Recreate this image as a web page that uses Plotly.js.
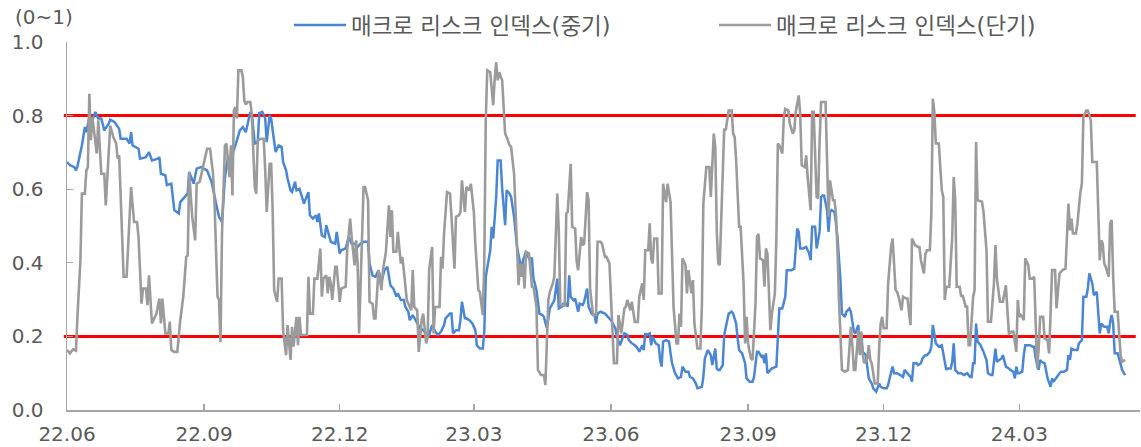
<!DOCTYPE html>
<html>
<head>
<meta charset="utf-8">
<script src="https://cdn.plot.ly/plotly-3.0.1.min.js"></script>
<style>html,body{margin:0;padding:0;background:#fff;}#chart{width:1141px;height:447px;}</style>
</head>
<body>
<div id="chart"></div>
<script>
// ---- data ----
const startDate = '2022-06-01';               // first observation
const axisEndDate = '2024-05-21';
const seriesNames = ['매크로 리스크 인덱스(중기)', '매크로 리스크 인덱스(단기)'];
const yAxisUnit = '(0~1)';
const upperBand = 0.8;
const lowerBand = 0.2;

// days elapsed since startDate, and index values (mid-term, blue)
const midDay = [0,2,5,6,7,10,12,13,15,17,19,21,23,25,28,29,32,35,36,40,42,43,44,48,49,53,55,57,61,62,63,66,67,70,72,75,76,79,81,82,85,87,90,94,97,100,102,104,106,108,110,113,116,118,120,123,
124,126,128,129,131,133,134,136,137,138,140,142,144,145,147,148,150,151,153,154,156,157,159,162,163,165,167,168,169,171,173,174,176,177,180,181,183,184,187,189,191,193,195,197,199,202,203,205,207,209,211,213,215,217,219,221,222,224,226,227,229,230,232,234,237,239,241,243,
245,247,249,251,253,254,257,258,259,261,263,264,265,267,268,270,272,274,275,277,279,280,281,284,285,286,287,288,289,291,292,294,295,297,298,300,302,304,305,306,308,310,312,313,315,317,319,320,322,324,326,327,329,330,332,333,335,336,337,338,340,341,343,344,346,347,349,350,352,354,355,356,358,361,363,
365,368,369,371,373,374,376,377,379,381,383,384,386,387,388,389,391,392,393,395,397,398,399,400,402,404,405,406,408,410,412,413,415,417,418,420,422,423,426,427,428,430,432,433,435,436,437,438,440,441,444,446,447,449,450,451,453,455,456,458,460,461,463,464,466,467,468,469,470,472,473,476,477,478,480,482,483,484,
486,488,490,491,492,494,496,498,499,500,502,503,505,506,507,508,510,511,512,513,515,516,517,519,520,522,523,525,526,528,529,531,532,533,534,536,537,538,540,541,543,545,546,548,550,551,552,554,555,557,559,561,562,564,566,567,568,570,571,573,574,576,577,579,580,581,582,583,585,587,588,590,591,593,594,595,596,598,600,602,604,606,
607,608,609,610,611,613,615,617,618,620,621,623,624,626,627,628,630,632,633,635,636,637,638,639,641,642,643,645,646,648,649,650,652,653,654,656,657,658,660,661,662,664,666,667,669,671,672,673,674,676,678,679,681,682,684,685,686,688,689,691,692,693,694,696,698,699,700,701,702,703,705,706,708,710];
const midVal = [0.674,0.665,0.660,0.651,0.662,0.719,0.769,0.755,0.796,0.787,0.810,0.792,0.792,0.760,0.778,0.789,0.782,0.764,0.737,0.737,0.724,0.755,0.719,0.710,0.683,0.687,0.701,0.678,0.683,0.687,0.642,0.638,0.611,0.615,0.543,0.534,0.565,0.579,0.588,0.647,0.615,0.656,0.660,0.651,0.620,0.561,0.525,0.511,0.633,0.687,0.683,0.719,0.760,0.769,0.755,0.810,
0.805,0.724,0.728,0.807,0.810,0.792,0.728,0.801,0.792,0.760,0.701,0.719,0.715,0.674,0.651,0.629,0.597,0.593,0.620,0.597,0.601,0.588,0.561,0.592,0.529,0.520,0.529,0.511,0.534,0.475,0.470,0.502,0.475,0.457,0.452,0.484,0.425,0.434,0.439,0.470,0.452,0.452,0.443,0.452,0.457,0.457,0.398,0.366,0.362,0.380,0.348,0.380,0.389,0.339,0.330,0.308,0.317,0.299,0.299,0.281,0.267,0.244,0.258,0.244,0.222,0.217,0.208,0.204,
0.231,0.213,0.204,0.213,0.231,0.249,0.262,0.262,0.208,0.217,0.217,0.244,0.294,0.249,0.249,0.244,0.235,0.217,0.176,0.167,0.167,0.213,0.362,0.434,0.498,0.466,0.525,0.579,0.678,0.678,0.602,0.502,0.597,0.588,0.579,0.525,0.443,0.407,0.380,0.407,0.430,0.412,0.412,0.357,0.326,0.262,0.258,0.253,0.222,0.276,0.289,0.298,0.357,0.276,0.281,0.289,0.289,0.281,0.366,0.307,0.298,0.303,0.267,0.289,0.285,0.294,0.330,0.281,0.262,0.258,0.235,0.262,0.267,0.262,0.253,
0.244,0.222,0.199,0.176,0.195,0.208,0.204,0.190,0.181,0.176,0.167,0.158,0.176,0.163,0.208,0.204,0.208,0.176,0.199,0.181,0.176,0.136,0.118,0.186,0.190,0.186,0.154,0.127,0.100,0.086,0.090,0.118,0.104,0.104,0.090,0.086,0.072,0.059,0.063,0.090,0.140,0.163,0.149,0.122,0.167,0.113,0.109,0.109,0.122,0.204,0.262,0.267,0.262,0.235,0.195,0.163,0.154,0.127,0.086,0.077,0.077,0.090,0.158,0.158,0.145,0.149,0.127,0.154,0.100,0.109,0.113,0.118,0.208,0.276,0.276,0.308,0.380,0.380,
0.380,0.384,0.493,0.484,0.439,0.439,0.443,0.425,0.407,0.498,0.498,0.439,0.484,0.579,0.583,0.583,0.543,0.484,0.538,0.543,0.538,0.507,0.470,0.353,0.262,0.253,0.267,0.276,0.267,0.213,0.208,0.231,0.163,0.190,0.158,0.149,0.122,0.086,0.072,0.059,0.050,0.072,0.063,0.059,0.059,0.068,0.086,0.118,0.100,0.100,0.095,0.090,0.109,0.100,0.090,0.077,0.127,0.127,0.122,0.127,0.140,0.149,0.149,0.158,0.172,0.231,0.208,0.181,0.172,0.176,0.154,0.109,0.113,0.113,0.131,0.181,0.109,0.100,0.100,0.095,0.100,0.090,
0.090,0.127,0.127,0.235,0.186,0.176,0.158,0.136,0.100,0.095,0.095,0.167,0.131,0.136,0.140,0.149,0.118,0.113,0.109,0.104,0.086,0.118,0.100,0.100,0.104,0.149,0.176,0.176,0.176,0.172,0.172,0.140,0.109,0.136,0.131,0.127,0.109,0.086,0.063,0.086,0.077,0.090,0.100,0.104,0.104,0.109,0.149,0.136,0.167,0.163,0.163,0.181,0.190,0.308,0.308,0.330,0.371,0.344,0.312,0.321,0.262,0.208,0.235,0.226,0.226,0.208,0.240,0.258,0.235,0.154,0.154,0.136,0.109,0.095];

// days elapsed since startDate, and index values (short-term, gray)
const shortDay = [0,2,4,6,7,9,10,12,13,14,15,16,17,19,20,21,23,25,26,29,31,33,34,35,38,40,42,43,45,47,48,50,51,53,54,55,57,60,62,63,64,66,68,69,70,72,74,76,78,80,81,82,84,86,87,89,91,94,96,98,99,101,102,103,104,106,107,109,110,111,112,113,114,115,117,118,119,120,121,123,
124,125,126,127,128,130,132,133,134,136,137,138,139,141,142,144,145,147,148,150,151,152,154,155,156,157,158,161,162,163,165,166,168,170,171,172,174,175,176,177,178,180,181,183,184,187,188,190,191,193,194,195,196,197,199,200,202,203,205,206,207,209,211,212,214,216,217,218,219,221,222,224,225,226,228,230,231,232,233,235,236,238,239,241,242,243,
245,246,247,250,251,252,253,255,257,258,260,261,263,264,265,267,268,270,271,273,274,276,277,279,280,281,282,284,286,287,288,289,290,292,294,295,297,298,300,301,303,304,305,306,307,308,310,312,313,315,316,318,320,321,323,324,326,327,329,330,331,333,334,335,336,338,339,341,342,343,345,346,347,349,350,351,353,355,356,358,359,361,362,364,
365,366,367,369,370,371,372,374,375,376,378,379,380,381,383,384,386,387,388,390,391,392,393,394,396,397,399,400,402,403,405,406,407,409,410,411,412,413,415,416,417,419,420,421,423,425,426,427,429,431,432,434,435,436,437,438,440,441,442,443,444,446,447,448,449,451,452,454,455,456,457,458,459,460,462,463,464,465,467,468,469,470,471,472,473,475,476,477,478,480,481,482,484,
485,487,488,489,491,492,493,495,496,497,499,500,501,503,504,505,506,509,510,511,512,514,515,516,517,518,520,522,524,526,527,528,529,531,532,533,534,535,537,538,539,540,542,544,545,546,547,548,550,551,553,554,556,557,558,560,561,563,564,566,567,569,571,572,573,575,576,577,579,580,581,582,583,585,587,588,589,590,592,594,595,596,597,599,600,601,603,604,605,606,
608,609,610,611,614,615,617,618,620,622,623,624,626,627,628,630,631,632,634,635,637,638,639,640,641,642,643,645,646,648,649,650,651,652,653,655,656,658,659,660,661,663,664,665,666,668,670,672,673,674,675,677,678,680,681,682,684,685,687,688,690,691,693,694,695,696,697,699,700,701,702,703,705,706,707,708,710];
const shortVal = [0.163,0.154,0.165,0.161,0.253,0.407,0.588,0.588,0.651,0.660,0.859,0.733,0.796,0.733,0.697,0.787,0.642,0.642,0.556,0.773,0.742,0.724,0.683,0.692,0.362,0.362,0.543,0.606,0.511,0.511,0.470,0.289,0.330,0.330,0.285,0.366,0.235,0.262,0.303,0.235,0.303,0.208,0.208,0.240,0.163,0.158,0.158,0.244,0.307,0.416,0.420,0.647,0.525,0.461,0.615,0.620,0.656,0.710,0.710,0.642,0.561,0.308,0.299,0.185,0.479,0.719,0.724,0.633,0.719,0.583,0.814,0.823,0.792,0.923,0.923,0.905,0.840,0.830,0.837,0.837,
0.805,0.724,0.606,0.588,0.733,0.737,0.737,0.651,0.538,0.669,0.669,0.543,0.326,0.294,0.357,0.357,0.217,0.149,0.231,0.136,0.226,0.172,0.253,0.176,0.253,0.204,0.204,0.204,0.362,0.262,0.262,0.357,0.357,0.439,0.308,0.357,0.366,0.317,0.362,0.344,0.299,0.389,0.389,0.294,0.330,0.335,0.434,0.520,0.470,0.393,0.461,0.398,0.208,0.335,0.606,0.606,0.570,0.294,0.289,0.249,0.249,0.380,0.326,0.380,0.430,0.556,0.470,0.543,0.430,0.430,0.484,0.398,0.416,0.380,0.299,0.280,0.271,0.380,0.280,0.271,0.158,0.244,0.262,0.181,0.199,0.380,
0.443,0.208,0.280,0.280,0.416,0.384,0.479,0.592,0.588,0.525,0.384,0.525,0.529,0.538,0.624,0.538,0.606,0.597,0.615,0.538,0.452,0.326,0.321,0.258,0.398,0.790,0.923,0.918,0.828,0.900,0.945,0.896,0.918,0.896,0.751,0.742,0.719,0.715,0.642,0.543,0.339,0.398,0.362,0.398,0.330,0.430,0.425,0.335,0.335,0.281,0.109,0.095,0.095,0.068,0.299,0.321,0.344,0.362,0.588,0.488,0.285,0.285,0.281,0.534,0.538,0.669,0.498,0.493,0.403,0.380,0.470,0.448,0.452,0.592,0.570,0.330,0.258,0.258,0.457,0.457,0.452,0.416,0.416,0.398,
0.308,0.217,0.127,0.127,0.258,0.235,0.208,0.276,0.281,0.299,0.271,0.294,0.262,0.239,0.239,0.308,0.344,0.299,0.434,0.434,0.507,0.411,0.398,0.466,0.466,0.317,0.317,0.615,0.565,0.615,0.565,0.389,0.280,0.181,0.181,0.262,0.226,0.412,0.394,0.317,0.380,0.317,0.353,0.235,0.167,0.167,0.280,0.561,0.660,0.660,0.579,0.751,0.715,0.488,0.398,0.394,0.633,0.764,0.760,0.791,0.814,0.814,0.751,0.742,0.678,0.498,0.498,0.344,0.181,0.253,0.181,0.158,0.140,0.136,0.289,0.470,0.479,0.412,0.407,0.335,0.439,0.425,0.317,0.217,0.262,0.317,0.466,0.724,0.719,0.697,0.796,0.818,0.814,
0.778,0.751,0.760,0.810,0.855,0.805,0.665,0.660,0.692,0.633,0.543,0.810,0.810,0.579,0.575,0.728,0.837,0.837,0.696,0.525,0.624,0.570,0.570,0.534,0.434,0.299,0.109,0.104,0.109,0.226,0.176,0.109,0.109,0.217,0.149,0.213,0.149,0.127,0.140,0.176,0.136,0.127,0.072,0.072,0.172,0.235,0.253,0.222,0.222,0.344,0.443,0.466,0.326,0.321,0.308,0.271,0.308,0.303,0.303,0.231,0.466,0.448,0.443,0.443,0.407,0.371,0.425,0.434,0.434,0.534,0.846,0.810,0.724,0.724,0.597,0.579,0.299,0.335,0.335,0.470,0.633,0.570,0.335,0.335,0.308,0.312,0.281,0.281,0.176,0.176,
0.307,0.326,0.728,0.570,0.566,0.538,0.434,0.240,0.240,0.344,0.448,0.357,0.294,0.294,0.294,0.339,0.262,0.208,0.213,0.213,0.158,0.299,0.253,0.258,0.253,0.244,0.412,0.394,0.357,0.357,0.362,0.244,0.113,0.167,0.253,0.253,0.194,0.190,0.154,0.262,0.380,0.380,0.276,0.326,0.371,0.380,0.384,0.561,0.488,0.520,0.480,0.480,0.507,0.592,0.615,0.796,0.814,0.814,0.787,0.674,0.674,0.674,0.407,0.461,0.452,0.398,0.389,0.362,0.507,0.516,0.362,0.267,0.267,0.195,0.149,0.131,0.136];

// ---- helpers ----
const t0 = Date.parse(startDate + 'T00:00:00Z');
const toDate = d => new Date(t0 + d * 86400000).toISOString().slice(0, 10);

const FONT = 'DejaVu Sans, Noto Sans CJK KR, sans-serif';
const TEXT = '#595959';
const AXIS = '#a6a6a6';

const traces = [
  {x: midDay.map(toDate), y: midVal, name: seriesNames[0], type: 'scatter', mode: 'lines',
   line: {color: '#4a86d4', width: 2.5}, hoverinfo: 'x+y'},
  {x: shortDay.map(toDate), y: shortVal, name: seriesNames[1], type: 'scatter', mode: 'lines',
   line: {color: '#9b9b9b', width: 2.6}, hoverinfo: 'x+y'}
];

const layout = {
  width: 1141, height: 447,
  margin: {l: 67, r: 1, t: 42, b: 37, pad: 0},
  paper_bgcolor: '#ffffff', plot_bgcolor: '#ffffff',
  font: {family: FONT, size: 20, color: TEXT},
  showlegend: true,
  legend: {orientation: 'h', x: 0.2069, xanchor: 'left', y: 1.045, yanchor: 'middle',
           font: {family: FONT, size: 22.5, color: TEXT}, itemwidth: 52, entrywidth: 358,
           bgcolor: 'rgba(0,0,0,0)', borderwidth: 0, traceorder: 'normal'},
  xaxis: {type: 'date', range: [startDate, axisEndDate], tick0: startDate, dtick: 'M3',
          tickformat: '%y.%m', ticks: 'inside', ticklen: 6, tickwidth: 1.3, tickcolor: AXIS,
          showline: true, linecolor: AXIS, linewidth: 1.5, showgrid: false, zeroline: false,
          tickfont: {family: FONT, size: 20, color: TEXT}, ticklabelstandoff: 5, fixedrange: true},
  yaxis: {range: [0, 1], tick0: 0, dtick: 0.2, tickformat: '.1f', ticks: 'inside', ticklen: 6,
          tickwidth: 1.3, tickcolor: AXIS, showline: true, linecolor: AXIS, linewidth: 1.5,
          showgrid: false, zeroline: false, tickfont: {family: FONT, size: 20, color: TEXT},
          ticklabelstandoff: 18, fixedrange: true},
  shapes: [upperBand, lowerBand].map(v => ({type: 'line', xref: 'paper', x0: -0.003, x1: 0.996,
          yref: 'y', y0: v, y1: v, line: {color: '#ff0000', width: 3}, layer: 'below'})),
  annotations: [{text: yAxisUnit, xref: 'paper', yref: 'paper', x: -0.0214, y: 1.068,
                 xanchor: 'center', yanchor: 'middle', showarrow: false,
                 font: {family: FONT, size: 20, color: TEXT}}]
};

Plotly.newPlot('chart', traces, layout, {displayModeBar: false, staticPlot: true});
</script>
</body>
</html>
